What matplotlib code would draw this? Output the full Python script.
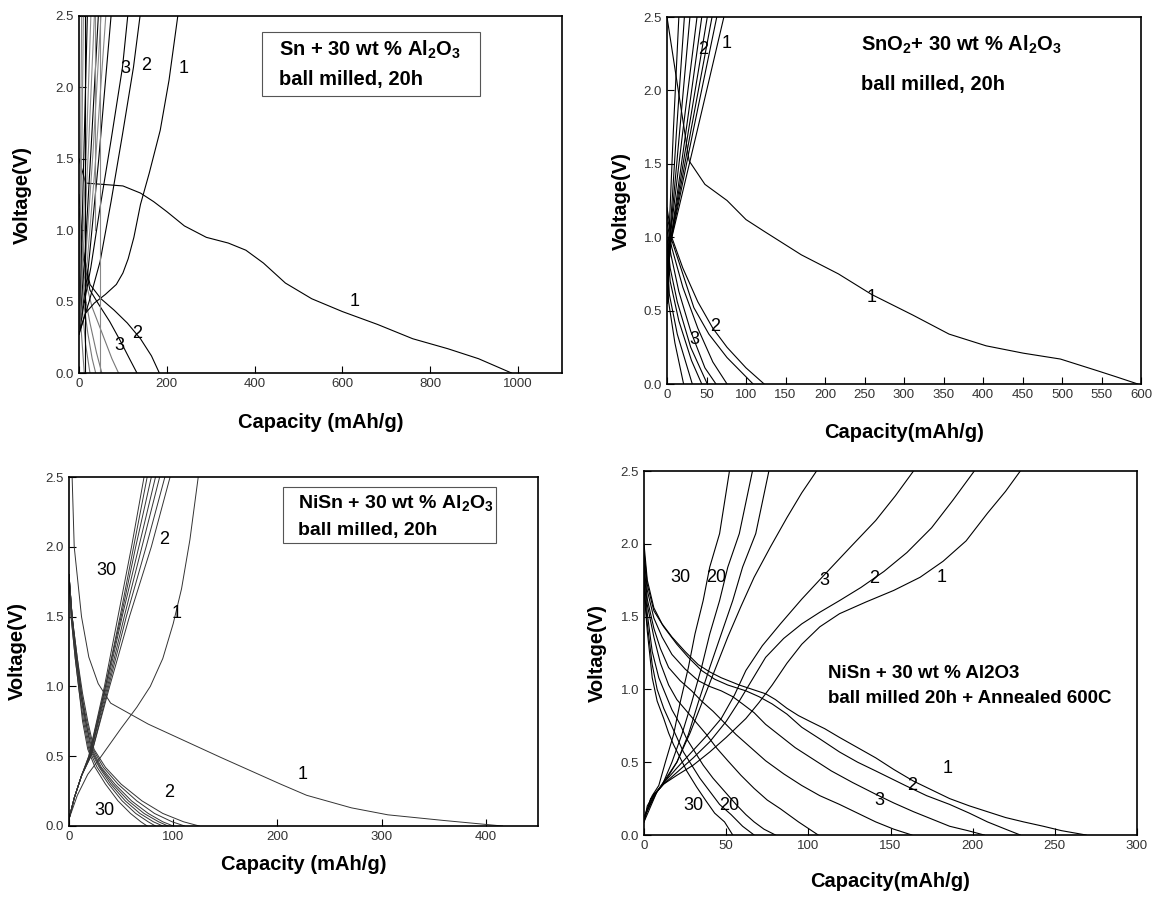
import matplotlib
matplotlib.use("Agg")
import matplotlib.pyplot as plt
from matplotlib.patches import Rectangle

plt.rcParams['font.family'] = ['Liberation Sans', 'DejaVu Sans']
plt.rcParams['mathtext.fontset'] = 'custom'
plt.rcParams['mathtext.rm'] = 'Liberation Sans:bold'
plt.rcParams['mathtext.bf'] = 'Liberation Sans:bold'

# ---- panel 1: Sn + 30 wt % Al2O3 ----
sn_dis_cap = [
    [0, 15, 100, 140, 170, 200, 240, 290, 340, 380, 420, 470, 530, 600, 680, 760, 840, 910, 985],
    [0, 10, 25, 50, 80, 110, 140, 165, 183],
    [0, 10, 25, 45, 70, 95, 115, 132],
    [0, 10, 30, 55, 75, 90],
    [0, 10, 25, 40, 52],
    [0, 8, 20, 30, 38],
    [0, 6, 15, 25],
    [0, 5, 12],
]
sn_dis_v = [
    [1.50, 1.33, 1.31, 1.26, 1.20, 1.13, 1.03, 0.95, 0.91, 0.86, 0.77, 0.63, 0.52, 0.43, 0.34, 0.24, 0.17, 0.10, 0.0],
    [1.25, 0.85, 0.62, 0.52, 0.44, 0.35, 0.24, 0.12, 0.0],
    [1.15, 0.80, 0.58, 0.48, 0.36, 0.22, 0.10, 0.0],
    [1.05, 0.70, 0.46, 0.26, 0.10, 0.0],
    [0.95, 0.60, 0.35, 0.14, 0.0],
    [0.90, 0.55, 0.28, 0.10, 0.0],
    [0.80, 0.50, 0.20, 0.0],
    [0.60, 0.30, 0.0],
]
sn_chg_cap = [
    [0, 15, 35, 60, 85, 100, 112, 125, 140, 160, 185, 205, 225],
    [0, 23, 48, 73, 99, 124, 139],
    [0, 10, 27, 48, 73, 99, 111],
    [0, 20, 45, 73],
    [0, 18, 38, 61],
    [0, 15, 32, 50],
    [0, 13, 28, 44],
    [0, 10, 22, 35],
    [0, 8, 17, 27],
    [0, 6, 12, 19],
    [0, 3, 7, 10],
    [0, 2, 4, 6],
    [14, 14],
    [36, 36],
    [48, 48],
]
sn_chg_v = [
    [0.28, 0.42, 0.49, 0.55, 0.62, 0.70, 0.80, 0.95, 1.18, 1.40, 1.70, 2.05, 2.50],
    [0.27, 0.50, 0.78, 1.20, 1.67, 2.14, 2.50],
    [0.27, 0.46, 0.74, 1.16, 1.63, 2.14, 2.50],
    [0.30, 0.70, 1.50, 2.50],
    [0.30, 0.75, 1.50, 2.50],
    [0.30, 0.80, 1.55, 2.50],
    [0.30, 0.80, 1.60, 2.50],
    [0.30, 0.85, 1.60, 2.50],
    [0.30, 0.90, 1.60, 2.50],
    [0.30, 0.90, 1.65, 2.50],
    [0.30, 0.90, 1.70, 2.50],
    [0.30, 1.00, 1.70, 2.50],
    [0.0, 2.50],
    [1.0, 2.50],
    [0.0, 2.50],
]
sn_labels = [("1", 238, 2.13), ("2", 154, 2.15), ("3", 105, 2.13),
             ("1", 628, 0.50), ("2", 132, 0.28), ("3", 92, 0.19)]

# ---- panel 2: SnO2 + 30 wt % Al2O3 ----
sno_dis_cap = [
    [0, 28, 48, 76, 100, 123, 170, 217, 259, 311, 357, 404, 451, 498, 545, 568, 596],
    [0, 6, 20, 39, 58, 76, 100, 123],
    [0, 6, 20, 34, 53, 76, 109],
    [0, 6, 20, 39, 58, 76],
    [0, 5, 15, 30, 48, 62],
    [0, 4, 13, 30, 51],
    [0, 4, 15, 31, 44],
    [0, 3, 13, 32],
    [0, 2, 10, 21],
]
sno_dis_v = [
    [2.50, 1.52, 1.36, 1.25, 1.12, 1.04, 0.88, 0.75, 0.61, 0.47, 0.34, 0.26, 0.21, 0.17, 0.09, 0.05, 0.0],
    [1.20, 1.00, 0.79, 0.56, 0.38, 0.25, 0.11, 0.0],
    [1.15, 0.98, 0.75, 0.52, 0.34, 0.18, 0.0],
    [1.10, 0.93, 0.66, 0.38, 0.15, 0.0],
    [1.05, 0.88, 0.63, 0.36, 0.11, 0.0],
    [1.00, 0.79, 0.56, 0.25, 0.0],
    [0.95, 0.70, 0.43, 0.16, 0.0],
    [0.90, 0.61, 0.34, 0.0],
    [0.85, 0.56, 0.28, 0.0],
]
sno_chg_cap = [
    [0, 4, 38, 72],
    [0, 4, 33, 63],
    [0, 4, 30, 57],
    [0, 4, 27, 51],
    [0, 4, 24, 44],
    [0, 3, 20, 38],
    [0, 3, 16, 29],
    [0, 3, 12, 22],
    [0, 2, 8, 15],
]
sno_chg_v = [0.55, 0.95, 1.72, 2.50]
sno_labels = [("1", 76, 2.32), ("2", 46, 2.28), ("1", 259, 0.59),
              ("2", 61, 0.39), ("3", 35, 0.30)]

# ---- panel 3: NiSn + 30 wt % Al2O3 ----
ni_dis1_cap = [3, 5, 12, 19, 28, 40, 76, 111, 146, 182, 203, 228, 271, 306, 359, 416]
ni_dis1_v = [2.5, 2.0, 1.5, 1.21, 1.02, 0.88, 0.73, 0.61, 0.49, 0.37, 0.30, 0.22, 0.13, 0.08, 0.04, 0.0]
ni_chg1_cap = [0, 8, 18, 31, 50, 65, 78, 90, 100, 108, 116, 124]
ni_chg1_v = [0.05, 0.22, 0.37, 0.5, 0.7, 0.85, 1.0, 1.2, 1.45, 1.7, 2.05, 2.5]
ni_dis_cap = [
    [0, 3, 8, 13, 18, 24, 35, 50, 70, 90, 110, 125],
    [0, 3, 8, 12, 17, 23, 33, 47, 65, 82, 99, 111],
    [0, 3, 7, 12, 16, 22, 31, 44, 60, 76, 90, 100],
    [0, 3, 7, 11, 16, 21, 30, 42, 57, 72, 86, 95],
    [0, 3, 7, 11, 15, 20, 29, 40, 54, 68, 81, 90],
    [0, 2, 6, 10, 14, 19, 27, 38, 51, 64, 76, 83],
    [0, 2, 6, 10, 13, 18, 25, 35, 47, 59, 69, 75],
]
ni_dis_v = [1.8, 1.5, 1.2, 0.95, 0.75, 0.55, 0.42, 0.30, 0.18, 0.09, 0.03, 0.0]
ni_chg_cap = [
    [0, 5, 12, 21, 39, 58, 79, 97],
    [0, 5, 12, 21, 38, 55, 74, 92],
    [0, 5, 12, 20, 37, 53, 70, 87],
    [0, 5, 12, 20, 36, 51, 67, 83],
    [0, 5, 12, 20, 35, 50, 64, 79],
    [0, 5, 12, 19, 35, 49, 62, 75],
    [0, 5, 12, 19, 34, 47, 60, 72],
]
ni_chg_v = [0.05, 0.2, 0.36, 0.5, 1.0, 1.5, 2.0, 2.5]
ni_labels = [("2", 91, 2.05), ("30", 36, 1.83), ("1", 103, 1.52),
             ("1", 224, 0.37), ("2", 96, 0.24), ("30", 34, 0.11)]

# ---- panel 4: NiSn + 30 wt % Al2O3, annealed 600C ----
ann_chg_cap = [
    [0, 2, 6, 12, 20, 30, 40, 50, 62, 70, 78, 87, 96, 107, 119, 135, 152, 168, 182, 196, 209, 220, 229],
    [0, 4, 12, 20, 30, 40, 50, 58, 66, 74, 85, 96, 107, 119, 132, 146, 160, 175, 188, 201],
    [0, 6, 13, 20, 29, 38, 47, 55, 62, 72, 83, 96, 110, 125, 141, 153, 164],
    [0, 8, 20, 28, 35, 43, 51, 59, 67, 77, 87, 96, 105],
    [0, 8, 14, 20, 27, 33, 40, 47, 54, 60, 68, 76],
    [0, 6, 11, 17, 23, 29, 35, 40, 46, 51, 58, 66],
    [0, 5, 9, 13, 18, 22, 27, 31, 36, 40, 46, 52],
]
ann_chg_v = [
    [0.09, 0.20, 0.28, 0.35, 0.41, 0.48, 0.57, 0.67, 0.80, 0.91, 1.03, 1.18, 1.31, 1.43, 1.52, 1.60, 1.68, 1.77, 1.88, 2.02, 2.21, 2.36, 2.50],
    [0.09, 0.25, 0.35, 0.43, 0.53, 0.64, 0.78, 0.92, 1.07, 1.22, 1.35, 1.45, 1.53, 1.61, 1.70, 1.81, 1.94, 2.11, 2.30, 2.50],
    [0.12, 0.27, 0.37, 0.46, 0.57, 0.68, 0.80, 0.96, 1.13, 1.30, 1.45, 1.62, 1.79, 1.97, 2.16, 2.33, 2.50],
    [0.09, 0.30, 0.50, 0.70, 0.90, 1.13, 1.36, 1.57, 1.77, 1.98, 2.18, 2.35, 2.50],
    [0.12, 0.30, 0.39, 0.50, 0.69, 0.91, 1.15, 1.38, 1.61, 1.84, 2.07, 2.50],
    [0.12, 0.27, 0.34, 0.50, 0.69, 0.91, 1.15, 1.38, 1.61, 1.84, 2.07, 2.50],
    [0.12, 0.27, 0.34, 0.50, 0.69, 0.91, 1.15, 1.38, 1.61, 1.84, 2.07, 2.50],
]
ann_dis_cap = [
    [0, 2, 6, 11, 17, 25, 33, 40, 47, 58, 66, 74, 80, 87, 94, 101, 110, 119, 130, 141, 152, 164, 175, 186, 198, 209, 220, 231, 243, 254, 269],
    [0, 2, 6, 12, 20, 27, 35, 43, 51, 62, 70, 78, 87, 96, 107, 119, 130, 141, 150, 159, 172, 186, 198, 209, 220, 229],
    [0, 2, 6, 11, 17, 25, 33, 40, 47, 54, 60, 67, 74, 83, 92, 103, 114, 127, 141, 152, 164, 175, 186, 197, 207],
    [0, 2, 6, 10, 15, 22, 29, 35, 42, 49, 56, 65, 74, 85, 96, 107, 119, 130, 141, 152, 163],
    [0, 2, 6, 10, 15, 20, 26, 32, 38, 44, 51, 59, 67, 75, 83, 94, 106],
    [0, 2, 5, 9, 13, 17, 22, 26, 31, 36, 42, 49, 56, 62, 67, 73, 80],
    [0, 2, 5, 8, 12, 16, 20, 24, 29, 34, 40, 46, 53, 60, 67],
    [0, 2, 5, 8, 12, 15, 18, 22, 26, 32, 38, 43, 49, 54],
]
ann_dis_v = [
    [2.00, 1.75, 1.56, 1.45, 1.36, 1.26, 1.17, 1.12, 1.08, 1.03, 1.00, 0.97, 0.93, 0.87, 0.82, 0.78, 0.73, 0.67, 0.60, 0.53, 0.45, 0.37, 0.31, 0.25, 0.20, 0.16, 0.12, 0.09, 0.06, 0.03, 0.0],
    [1.95, 1.72, 1.54, 1.43, 1.31, 1.22, 1.13, 1.07, 1.03, 0.99, 0.95, 0.90, 0.83, 0.74, 0.66, 0.57, 0.50, 0.44, 0.39, 0.34, 0.27, 0.21, 0.15, 0.09, 0.04, 0.0],
    [1.91, 1.68, 1.49, 1.36, 1.24, 1.14, 1.06, 1.02, 0.99, 0.95, 0.90, 0.84, 0.76, 0.68, 0.60, 0.52, 0.44, 0.36, 0.28, 0.22, 0.16, 0.11, 0.06, 0.03, 0.0],
    [1.86, 1.62, 1.42, 1.28, 1.15, 1.06, 0.99, 0.92, 0.85, 0.77, 0.69, 0.60, 0.51, 0.42, 0.34, 0.27, 0.21, 0.15, 0.09, 0.04, 0.0],
    [1.82, 1.58, 1.36, 1.18, 1.03, 0.93, 0.85, 0.77, 0.69, 0.60, 0.51, 0.41, 0.32, 0.24, 0.18, 0.09, 0.0],
    [1.77, 1.52, 1.26, 1.08, 0.97, 0.86, 0.76, 0.66, 0.57, 0.48, 0.39, 0.30, 0.21, 0.14, 0.09, 0.04, 0.0],
    [1.72, 1.45, 1.17, 1.00, 0.87, 0.77, 0.67, 0.57, 0.48, 0.39, 0.30, 0.21, 0.14, 0.06, 0.0],
    [1.68, 1.40, 1.08, 0.92, 0.80, 0.70, 0.62, 0.53, 0.44, 0.33, 0.23, 0.15, 0.09, 0.0],
]
ann_labels = [("30", 22, 1.77), ("20", 44, 1.77), ("3", 110, 1.75), ("2", 140, 1.76),
              ("1", 181, 1.77), ("1", 185, 0.46), ("2", 163, 0.34), ("3", 143, 0.24),
              ("30", 30, 0.20), ("20", 52, 0.20)]


def style(ax, xmax, xstep, xlabel, xlab_y, ylab_x):
    ax.set_xlim(0, xmax)
    ax.set_ylim(0, 2.5)
    ax.set_xticks(range(0, xmax + 1, xstep) if xmax % xstep == 0 else range(0, xmax, xstep))
    ax.set_yticks([0, 0.5, 1.0, 1.5, 2.0, 2.5])
    ax.yaxis.set_major_formatter(matplotlib.ticker.FormatStrFormatter('%.1f'))
    ax.tick_params(direction='in', length=5, width=0.8, top=False, right=False,
                   labelsize=9.5, labelcolor='#333333')
    for s in ax.spines.values():
        s.set_linewidth(1.2)
    ax.text(0.5, xlab_y, xlabel, transform=ax.transAxes, ha='center', va='center',
            fontsize=14.5, fontweight='bold')
    ax.text(ylab_x, 0.5, 'Voltage(V)', transform=ax.transAxes, ha='center', va='center',
            rotation=90, fontsize=14.5, fontweight='bold')


def put_labels(ax, labels):
    for t, x, y in labels:
        ax.text(x, y, t, fontsize=13, ha='center', va='center')


fig = plt.figure(figsize=(11.58, 9), dpi=100)

# panel 1
ax1 = fig.add_axes([79 / 1158, 1 - 373 / 900, 483 / 1158, 357 / 900])
for i, (c, v) in enumerate(zip(sn_dis_cap, sn_dis_v)):
    ax1.plot(c, v, color='black' if i < 3 else '#777777', lw=0.8)
for i, (c, v) in enumerate(zip(sn_chg_cap, sn_chg_v)):
    ax1.plot(c, v, color='black' if i < 3 or i % 3 == 0 else '#888888', lw=0.8)
style(ax1, 1100, 200, 'Capacity (mAh/g)', -0.14, -0.118)
put_labels(ax1, sn_labels)
ax1.add_patch(Rectangle((0.379, 0.776), 0.451, 0.179, transform=ax1.transAxes,
                        fill=False, lw=0.8, edgecolor='#555555'))
ax1.text(0.414, 0.905, r'Sn + 30 wt % Al$_2$O$_3$', transform=ax1.transAxes,
         fontsize=14.5, fontweight='bold', va='center')
ax1.text(0.414, 0.821, 'ball milled, 20h', transform=ax1.transAxes,
         fontsize=14.5, fontweight='bold', va='center')

# panel 2
ax2 = fig.add_axes([667 / 1158, 1 - 384 / 900, 474 / 1158, 367 / 900])
for c, v in zip(sno_dis_cap, sno_dis_v):
    ax2.plot(c, v, color='black', lw=0.8)
for c in sno_chg_cap:
    ax2.plot(c, sno_chg_v, color='black', lw=0.8)
style(ax2, 600, 50, 'Capacity(mAh/g)', -0.131, -0.097)
put_labels(ax2, sno_labels)
ax2.text(0.409, 0.924, r'SnO$_2$+ 30 wt % Al$_2$O$_3$', transform=ax2.transAxes,
         fontsize=14.5, fontweight='bold', va='center')
ax2.text(0.409, 0.815, 'ball milled, 20h', transform=ax2.transAxes,
         fontsize=14.5, fontweight='bold', va='center')

# panel 3
ax3 = fig.add_axes([69 / 1158, 1 - 826 / 900, 469 / 1158, 349 / 900])
ax3.plot(ni_dis1_cap, ni_dis1_v, color='#333333', lw=0.7)
ax3.plot(ni_chg1_cap, ni_chg1_v, color='#333333', lw=0.7)
for c in ni_dis_cap:
    ax3.plot(c, ni_dis_v, color='#333333', lw=0.7)
for c in ni_chg_cap:
    ax3.plot(c, ni_chg_v, color='#333333', lw=0.7)
style(ax3, 450, 100, 'Capacity (mAh/g)', -0.109, -0.111)
put_labels(ax3, ni_labels)
ax3.add_patch(Rectangle((0.456, 0.811), 0.454, 0.159, transform=ax3.transAxes,
                        fill=False, lw=0.8, edgecolor='#555555'))
ax3.text(0.488, 0.924, r'NiSn + 30 wt % Al$_2$O$_3$', transform=ax3.transAxes,
         fontsize=14, fontweight='bold', va='center')
ax3.text(0.488, 0.848, 'ball milled, 20h', transform=ax3.transAxes,
         fontsize=14, fontweight='bold', va='center')

# panel 4
ax4 = fig.add_axes([644 / 1158, 1 - 835 / 900, 493 / 1158, 364 / 900])
for c, v in zip(ann_chg_cap, ann_chg_v):
    ax4.plot(c, v, color='black', lw=0.8)
for c, v in zip(ann_dis_cap, ann_dis_v):
    ax4.plot(c, v, color='black', lw=0.8)
style(ax4, 300, 50, 'Capacity(mAh/g)', -0.129, -0.095)
put_labels(ax4, ann_labels)
ax4.text(0.373, 0.445, 'NiSn + 30 wt % Al2O3', transform=ax4.transAxes,
         fontsize=13.5, fontweight='bold', va='center')
ax4.text(0.373, 0.376, 'ball milled 20h + Annealed 600C', transform=ax4.transAxes,
         fontsize=13.5, fontweight='bold', va='center')

fig.savefig('out.png', dpi=100)
